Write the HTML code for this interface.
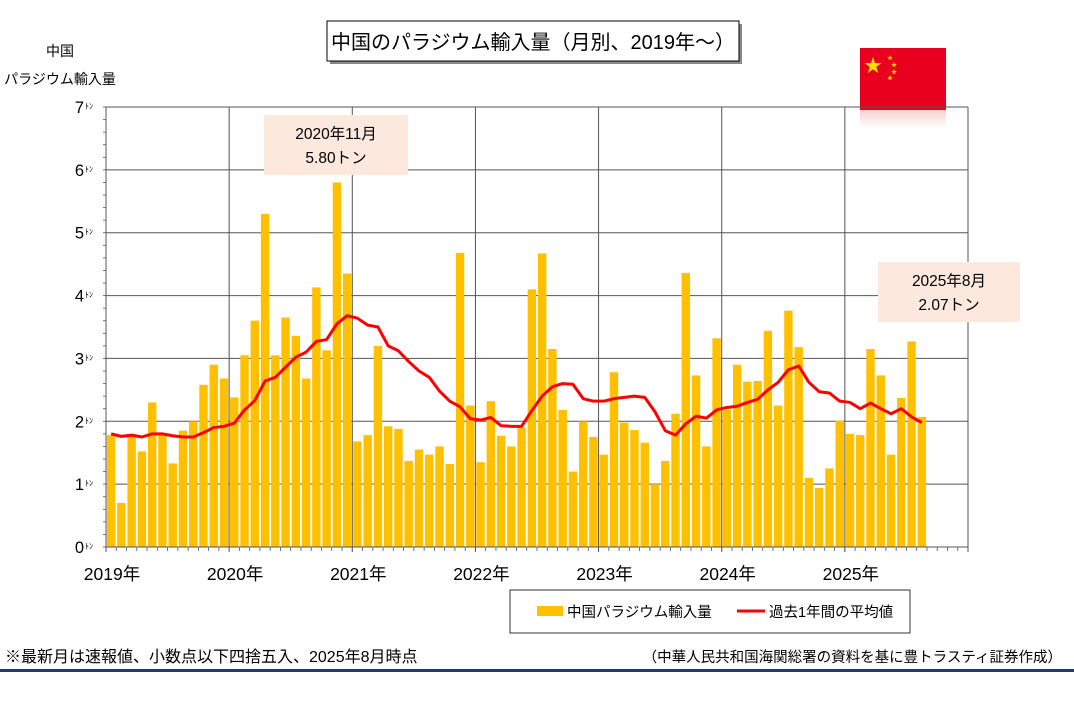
<!DOCTYPE html>
<html><head><meta charset="utf-8"><style>
body{margin:0;background:#fff;font-family:"Liberation Sans","Noto Sans CJK JP",sans-serif;}
svg text{font-family:"Liberation Sans","Noto Sans CJK JP",sans-serif;}
</style></head><body>
<svg id="c" width="1074" height="707" xmlns="http://www.w3.org/2000/svg">
<defs><linearGradient id="fr" x1="0" y1="0" x2="0" y2="1"><stop offset="0" stop-color="#f8d0d0"/><stop offset="1" stop-color="#fff"/></linearGradient></defs>
<g>
<rect x="330" y="24" width="412" height="40" fill="#888"/>
<rect x="327" y="21" width="412" height="40" fill="#fff" stroke="#000" stroke-width="1"/>
<text x="533" y="49" font-size="20" text-anchor="middle" fill="#000">中国のパラジウム輸入量（月別、2019年～）</text>
</g>
<g>
<rect x="860" y="48" width="86" height="62" fill="#e8001e"/>
<rect x="860" y="110" width="86" height="18" fill="url(#fr)"/>
<text x="873" y="72" font-size="18" fill="#ffde00" text-anchor="middle">★</text>
<text x="887" y="60" font-size="6" fill="#ffde00">★</text>
<text x="891" y="67" font-size="6" fill="#ffde00">★</text>
<text x="891" y="74" font-size="6" fill="#ffde00">★</text>
<text x="887" y="80" font-size="6" fill="#ffde00">★</text>
</g>
<text x="60" y="56" font-size="14" text-anchor="middle">中国</text>
<text x="60" y="84" font-size="14" text-anchor="middle">パラジウム輸入量</text>
<g id="plot"></g>
<g>
<rect x="264" y="115" width="144" height="60" fill="#fce8dc"/>
<text x="336" y="139" font-size="15.5" text-anchor="middle">2020年11月</text>
<text x="336" y="163" font-size="15.5" text-anchor="middle">5.80トン</text>
</g>
<g>
<rect x="878" y="262" width="142" height="60" fill="#fce8dc"/>
<text x="949" y="286" font-size="15.5" text-anchor="middle">2025年8月</text>
<text x="949" y="310" font-size="15.5" text-anchor="middle">2.07トン</text>
</g>
<g>
<rect x="510" y="590" width="400" height="43" fill="#fff" stroke="#000" stroke-width="0.8"/>
<rect x="537" y="606" width="26" height="10" fill="#ffc000"/>
<text x="567" y="617" font-size="14.5">中国パラジウム輸入量</text>
<line x1="737" y1="611" x2="765" y2="611" stroke="#ff0000" stroke-width="3"/>
<text x="769" y="617" font-size="14.5">過去1年間の平均値</text>
</g>
<text x="5" y="662" font-size="16">※最新月は速報値、小数点以下四捨五入、2025年8月時点</text>
<text x="1062" y="662" font-size="14.5" text-anchor="end">（中華人民共和国海関総署の資料を基に豊トラスティ証券作成）</text>
<rect x="0" y="669" width="1074" height="3" fill="#1f3b73"/>
</svg>
<script>
const imports = [
1.78,0.70,1.77,1.52,2.30,1.78,1.33,1.85,2.00,2.58,2.90,2.68,
2.38,3.05,3.60,5.30,3.05,3.65,3.36,2.68,4.13,3.13,5.80,4.35,
1.68,1.78,3.20,1.92,1.88,1.37,1.55,1.47,1.60,1.32,4.68,2.25,
1.35,2.32,1.77,1.60,1.90,4.10,4.67,3.15,2.18,1.20,2.00,1.75,
1.47,2.78,1.98,1.86,1.66,1.00,1.37,2.12,4.36,2.73,1.60,3.32,
2.18,2.90,2.63,2.64,3.44,2.25,3.76,3.18,1.10,0.94,1.25,2.01,
1.80,1.78,3.15,2.73,1.47,2.37,3.27,2.07];
const avg12 = [
1.80,1.76,1.78,1.75,1.80,1.80,1.77,1.75,1.75,1.82,1.90,1.92,
1.97,2.18,2.33,2.64,2.70,2.86,3.02,3.10,3.27,3.30,3.55,3.68,
3.64,3.53,3.50,3.20,3.12,2.95,2.80,2.70,2.48,2.32,2.23,2.04,
2.02,2.06,1.93,1.92,1.92,2.17,2.40,2.55,2.60,2.59,2.36,2.32,
2.32,2.36,2.38,2.40,2.38,2.15,1.85,1.78,1.96,2.08,2.05,2.18,
2.22,2.24,2.30,2.35,2.50,2.62,2.82,2.88,2.62,2.47,2.45,2.32,
2.30,2.20,2.29,2.20,2.12,2.20,2.07,1.98];
const yTicks = [0,1,2,3,4,5,6,7];
const yearLabels = ["2019年","2020年","2021年","2022年","2023年","2024年","2025年"];
const NS="http://www.w3.org/2000/svg";
const X0=106,X1=968,Y0=547,Y1=107,YMAX=7,NM=84;
const mw=(X1-X0)/NM;
const y=v=>Y0-(v/YMAX)*(Y0-Y1);
const xc=i=>X0+(i+0.5)*mw;
const g=document.getElementById('plot');
function mk(t,a){const e=document.createElementNS(NS,t);for(const k in a)e.setAttribute(k,a[k]);g.appendChild(e);return e;}
yTicks.forEach(v=>{
 const l=mk('line',{x1:X0,x2:X1,y1:y(v),y2:y(v),stroke:'#555','stroke-width':1});
 
 
 const t=mk('text',{x:X0-22,y:y(v)+6,'font-size':16.5,'text-anchor':'end'});
 t.textContent=v;
 
 
 const u=mk('text',{x:X0-21,y:y(v)+2,'font-size':8});
 u.textContent='ﾄﾝ';
 
 
});
for(let k=0;k<=YMAX*5;k++){const yy=y(k/5);mk('line',{x1:X0-3,x2:X0,y1:yy,y2:yy,stroke:'#555','stroke-width':0.8});}
for(let yr=0;yr<=7;yr++){
 const x=X0+yr*12*mw;
 const l=mk('line',{x1:x,x2:x,y1:Y1,y2:Y0+5,stroke:'#555','stroke-width':1});
 
 
}
for(let i=0;i<=NM;i++){const x=X0+i*mw;mk('line',{x1:x,x2:x,y1:Y0,y2:Y0+4,stroke:'#555','stroke-width':0.8});}
mk('line',{x1:X1,x2:X1,y1:Y1,y2:Y0,stroke:'#555','stroke-width':1});
yearLabels.forEach((s,k)=>{
 const t=mk('text',{x:X0+k*12*mw+6,y:Y0+33,'font-size':17.5,'text-anchor':'middle'});
 t.textContent=s;
 
 
});
imports.forEach((v,i)=>{
 const bw=mw*0.82;
 const r=mk('rect',{x:xc(i)-bw/2,y:y(v),width:bw,height:Y0-y(v),fill:'#ffc000'});
 
 
});
const p=mk('polyline',{points:avg12.map((v,i)=>xc(i)+','+y(v)).join(' '),fill:'none',stroke:'#ff0000','stroke-width':3,'stroke-linejoin':'round'});


mk('line',{x1:X0,x2:X0,y1:Y1,y2:Y0,stroke:'#555','stroke-width':1});
mk('line',{x1:X0,x2:X1,y1:Y0,y2:Y0,stroke:'#555','stroke-width':1});
</script>
</body></html>
